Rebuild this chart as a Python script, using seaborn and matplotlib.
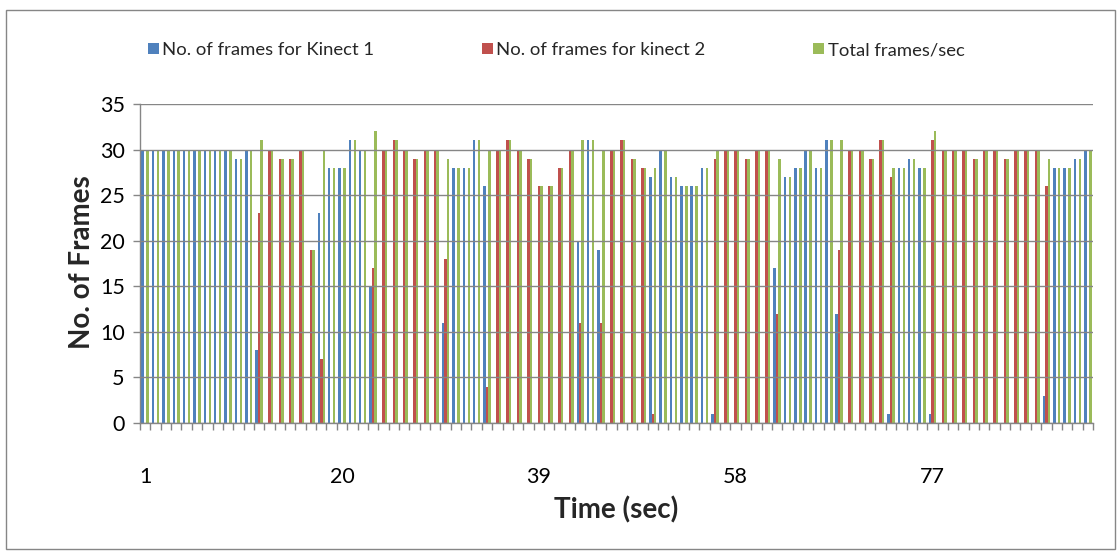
import matplotlib
matplotlib.use("Agg")
import matplotlib.pyplot as plt
from matplotlib.patches import Rectangle, Patch
import numpy as np
import pandas as pd
import seaborn as sns

# Frames captured per second by each sensor and the combined rate
seconds = list(range(1, 93))
kinect1 = [30, 30, 30, 30, 30, 30, 30, 30, 30, 29, 30, 8, 0, 0, 0, 0, 0, 23, 28, 28,
           31, 30, 15, 0, 0, 0, 0, 0, 0, 11, 28, 28, 31, 26, 0, 0, 0, 0, 0, 0,
           0, 0, 20, 31, 19, 0, 0, 0, 0, 27, 30, 27, 26, 26, 28, 1, 0, 0, 0, 0,
           0, 17, 27, 28, 30, 28, 31, 12, 0, 0, 0, 0, 1, 28, 29, 28, 1, 0, 0, 0,
           0, 0, 0, 0, 0, 0, 0, 3, 28, 28, 29, 30]
kinect2 = [0, 0, 0, 0, 0, 0, 0, 0, 0, 0, 0, 23, 30, 29, 29, 30, 19, 7, 0, 0,
           0, 0, 17, 30, 31, 30, 29, 30, 30, 18, 0, 0, 0, 4, 30, 31, 30, 29, 26, 26,
           28, 30, 11, 0, 11, 30, 31, 29, 28, 1, 0, 0, 0, 0, 0, 29, 30, 30, 29, 30,
           30, 12, 0, 0, 0, 0, 0, 19, 30, 30, 29, 31, 27, 0, 0, 0, 31, 30, 30, 30,
           29, 30, 30, 29, 30, 30, 30, 26, 0, 0, 0, 0]
total = [30, 30, 30, 30, 30, 30, 30, 30, 30, 29, 30, 31, 30, 29, 29, 30, 19, 30, 28, 28,
         31, 30, 32, 30, 31, 30, 29, 30, 30, 29, 28, 28, 31, 30, 30, 31, 30, 29, 26, 26,
         28, 30, 31, 31, 30, 30, 31, 29, 28, 28, 30, 27, 26, 26, 28, 30, 30, 30, 29, 30,
         30, 29, 27, 28, 30, 28, 31, 31, 30, 30, 29, 31, 28, 28, 29, 28, 32, 30, 30, 30,
         29, 30, 30, 29, 30, 30, 30, 29, 28, 28, 29, 30]

series_names = ["No. of frames for Kinect 1", "No. of frames for kinect 2", "Total frames/sec"]
colors = ["#4F81BD", "#C0504D", "#9BBB59"]
x_label_positions = [1, 20, 39, 58, 77]
y_ticks = [0, 5, 10, 15, 20, 25, 30, 35]

df = pd.DataFrame({
    "second": seconds * 3,
    "series": [series_names[0]] * len(seconds) + [series_names[1]] * len(seconds)
              + [series_names[2]] * len(seconds),
    "frames": kinect1 + kinect2 + total,
})

sns.set_theme(style="white")
plt.rcParams["font.family"] = ["Lato", "DejaVu Sans"]

W, H = 1119, 552
fig = plt.figure(figsize=(W / 100, H / 100), dpi=100)
fig.patch.set_facecolor("white")

left, right, top, bottom = 140, 1093, 104, 423
ax = fig.add_axes([left / W, 1 - bottom / H, (right - left) / W, (bottom - top) / H])

sns.barplot(data=df, x="second", y="frames", hue="series", order=seconds,
            hue_order=series_names, palette=colors, saturation=1, width=0.72,
            errorbar=None, linewidth=0, legend=False, ax=ax)

grey = "#868686"
ax.set_xlim(-0.5, len(seconds) - 0.5)
ax.set_ylim(0, 35)
ax.set_yticks(y_ticks)
ax.yaxis.grid(True, color=grey, linewidth=1)
ax.xaxis.grid(False)
ax.set_axisbelow(False)

ax.set_xticks([seconds.index(s) for s in x_label_positions])
ax.set_xticklabels([str(s) for s in x_label_positions])
ax.set_xticks(np.arange(-0.5, len(seconds), 1), minor=True)
ax.tick_params(axis="x", which="major", length=0, pad=32, labelsize=15.5, colors="black")
ax.tick_params(axis="x", which="minor", length=5, width=1, color=grey, direction="out")
ax.tick_params(axis="y", length=5, width=1, color=grey, direction="out", pad=6,
               labelsize=15.5, labelcolor="black")
ax.tick_params(bottom=True, left=True, which="both")

for side in ["top", "right"]:
    ax.spines[side].set_visible(False)
for side in ["left", "bottom"]:
    ax.spines[side].set_color(grey)
    ax.spines[side].set_linewidth(1)

ax.set_xlabel("")
ax.set_ylabel("")
fig.text(616 / W, 1 - 510 / H, "Time (sec)", ha="center", va="center",
         fontsize=20, fontweight="bold")
fig.text(82 / W, 1 - 262 / H, "No. of Frames", ha="center", va="center",
         rotation=90, fontsize=20, fontweight="bold")

handles = [Patch(facecolor=c, edgecolor="none") for c in colors]
fig.legend(handles, series_names, loc="center", bbox_to_anchor=(556 / W, 1 - 50 / H),
           ncol=3, frameon=False, fontsize=13.3, handlelength=0.6, handleheight=0.6,
           handletextpad=0.2, columnspacing=5.8)

fig.add_artist(Rectangle((6 / W, 3 / H), (1115 - 6) / W, (542 - 3) / H,
                         transform=fig.transFigure, fill=False, edgecolor=grey,
                         linewidth=1))

fig.savefig("out.png", dpi=100)
